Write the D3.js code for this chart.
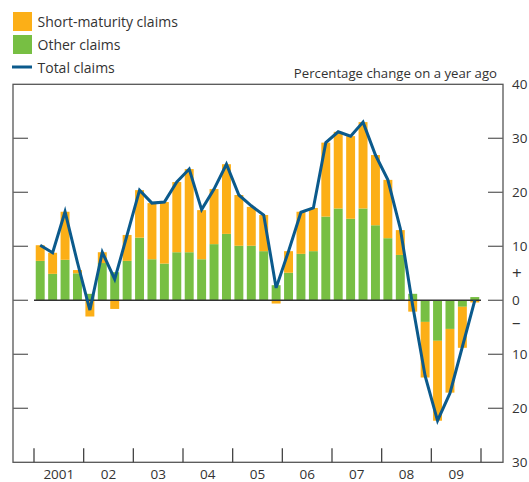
<!DOCTYPE html>
<html>
<head>
<meta charset="utf-8">
<script src="https://cdn.jsdelivr.net/npm/d3@7"></script>
<style>
  body { margin: 0; background: #fff; }
  svg { display: block; font-family: "Open Sans", "Noto Sans", sans-serif; }
</style>
</head>
<body>
<svg></svg>
<script>
// quarters 2001 Q1 .. 2009 Q4
var years = ["2001", "02", "03", "04", "05", "06", "07", "08", "09"]
var quarters = []
years.forEach(function (y) { for (var q = 1; q <= 4; q++) quarters.push(y + " Q" + q) })

var shortMaturity = [2.9, 3.9, 8.9, 0.6, -3.0, 2.0, -1.6, 4.8, 8.8, 10.4, 11.4, 13.0,
  15.4, 9.1, 10.2, 12.9, 9.4, 7.2, 6.7, -0.6, 4.0, 7.8, 8.0, 13.7,
  14.2, 15.3, 16.0, 13.0, 10.8, 4.6, -2.1, -10.3, -14.8, -11.8, -7.6, -0.4]
var otherClaims = [7.3, 4.9, 7.5, 5.0, 1.2, 6.9, 5.2, 7.3, 11.6, 7.6, 6.8, 8.9,
  8.9, 7.6, 10.4, 12.3, 10.1, 10.1, 9.1, 2.8, 5.1, 8.6, 9.1, 15.5,
  17.0, 15.1, 17.0, 13.9, 11.5, 8.4, 1.2, -4.0, -7.5, -5.3, -1.2, 0.6]
var totalClaims = [10.2, 8.8, 16.4, 7.0, -1.8, 8.9, 3.9, 12.1, 20.4, 18.0, 18.2, 21.9,
  24.3, 16.8, 20.6, 25.2, 19.5, 17.5, 15.8, 2.3, 9.1, 16.3, 17.1, 29.2,
  31.2, 30.4, 33.0, 26.9, 22.3, 13.3, -1.0, -14.0, -22.3, -17.2, -8.6, 0.0]

var yTicks = [40, 30, 20, 10, 0, -10, -20, -30]

var width = 529
var height = 482
var orange = "#fcaf17"
var green = "#77bf43"
var blue = "#0b5a8c"
var textColor = "#333"

var svg = d3.select("svg")
  .attr("width", width)
  .attr("height", height)

var frame = { left: 13, right: 503, top: 84.3, bottom: 462.3 }

var x = d3.scaleBand()
  .domain(quarters)
  .range([34, 481])
  .paddingInner(0.28)
  .paddingOuter(0.14)

var y = d3.scaleLinear()
  .domain([-30, 40])
  .range([frame.bottom, frame.top])

// stacked data, negatives stack downwards
var rows = quarters.map(function (q, i) {
  return { q: q, other: otherClaims[i], short: shortMaturity[i] }
})
var stack = d3.stack()
  .keys(["other", "short"])
  .offset(d3.stackOffsetDiverging)
var series = stack(rows)
var colors = { other: green, short: orange }

svg.append("g")
  .selectAll("g")
  .data(series)
  .enter().append("g")
  .attr("fill", function (s) { return colors[s.key] })
  .selectAll("rect")
  .data(function (s) { return s })
  .enter().append("rect")
  .attr("x", function (d) { return x(d.data.q) })
  .attr("width", x.bandwidth())
  .attr("y", function (d) { return y(Math.max(d[0], d[1])) })
  .attr("height", function (d) { return Math.abs(y(d[0]) - y(d[1])) })

// frame
svg.append("rect")
  .attr("x", frame.left)
  .attr("y", frame.top)
  .attr("width", frame.right - frame.left)
  .attr("height", frame.bottom - frame.top)
  .attr("fill", "none")
  .attr("stroke", "#555")
  .attr("stroke-width", 1.3)

// y ticks, inside on both sides
var inner = yTicks.filter(function (t) { return t > -30 && t < 40 })
svg.append("g")
  .selectAll("line")
  .data(inner)
  .enter().append("line")
  .attr("x1", frame.left).attr("x2", frame.left + 15)
  .attr("y1", function (d) { return y(d) }).attr("y2", function (d) { return y(d) })
  .attr("stroke", "#666").attr("stroke-width", 1.3)
svg.append("g")
  .selectAll("line")
  .data(inner)
  .enter().append("line")
  .attr("x1", frame.right - 15).attr("x2", frame.right)
  .attr("y1", function (d) { return y(d) }).attr("y2", function (d) { return y(d) })
  .attr("stroke", "#666").attr("stroke-width", 1.3)

// zero line
svg.append("line")
  .attr("x1", x.range()[0]).attr("x2", x.range()[1])
  .attr("y1", y(0)).attr("y2", y(0))
  .attr("stroke", "#333").attr("stroke-width", 1.5)

// right axis labels
svg.append("g")
  .selectAll("text")
  .data(yTicks)
  .enter().append("text")
  .attr("x", 512)
  .attr("y", function (d) { return y(d) + 5 })
  .attr("font-size", 13.5)
  .attr("fill", textColor)
  .text(function (d) { return Math.abs(d) })

svg.append("text").attr("x", 512).attr("y", y(5) + 6)
  .attr("font-size", 17).attr("fill", textColor).text("+")
svg.append("text").attr("x", 512).attr("y", y(-4) + 6)
  .attr("font-size", 17).attr("fill", textColor).text("–")

// year ticks and labels
var yearEdges = years.map(function (yr) { return x(yr + " Q1") - x.step() * 0.14 })
yearEdges.push(x.range()[1])
svg.append("g")
  .selectAll("line")
  .data(yearEdges)
  .enter().append("line")
  .attr("x1", function (d) { return d }).attr("x2", function (d) { return d })
  .attr("y1", frame.bottom).attr("y2", frame.bottom - 14)
  .attr("stroke", "#444").attr("stroke-width", 1.3)

svg.append("g")
  .selectAll("text")
  .data(years)
  .enter().append("text")
  .attr("x", function (d, i) { return (yearEdges[i] + yearEdges[i + 1]) / 2 })
  .attr("y", 479)
  .attr("text-anchor", "middle")
  .attr("font-size", 13.5)
  .attr("fill", textColor)
  .text(function (d) { return d })

// total claims line
var line = d3.line()
  .x(function (d, i) { return x(quarters[i]) + x.bandwidth() / 2 })
  .y(function (d) { return y(d) })
svg.append("path")
  .datum(totalClaims)
  .attr("d", line)
  .attr("fill", "none")
  .attr("stroke", blue)
  .attr("stroke-width", 3)
  .attr("stroke-linejoin", "miter")

// units label
svg.append("text")
  .attr("x", 497)
  .attr("y", 78)
  .attr("text-anchor", "end")
  .attr("font-size", 13.2)
  .attr("fill", textColor)
  .text("Percentage change on a year ago")

// legend
var legend = svg.append("g")
legend.append("rect").attr("x", 13).attr("y", 12).attr("width", 19).attr("height", 19).attr("fill", orange)
legend.append("rect").attr("x", 13).attr("y", 35).attr("width", 19).attr("height", 19).attr("fill", green)
legend.append("line").attr("x1", 12).attr("x2", 32).attr("y1", 67).attr("y2", 67)
  .attr("stroke", blue).attr("stroke-width", 3)
legend.selectAll("text")
  .data(["Short-maturity claims", "Other claims", "Total claims"])
  .enter().append("text")
  .attr("x", 37.5)
  .attr("y", function (d, i) { return 27 + i * 23 })
  .attr("font-size", 14)
  .attr("fill", textColor)
  .text(function (d) { return d })
</script>
</body>
</html>
